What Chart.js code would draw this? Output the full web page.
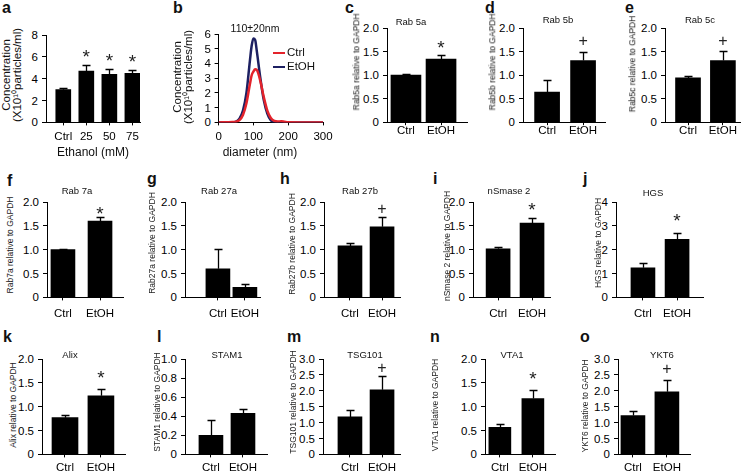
<!DOCTYPE html>
<html>
<head>
<meta charset="utf-8">
<script src="https://cdn.jsdelivr.net/npm/chart.js@4.4.1/dist/chart.umd.min.js"></script>
<style>
  html, body { margin:0; padding:0; background:#fff; }
  #fig { position:relative; width:746px; height:473px; overflow:hidden; font-family:'Liberation Sans', Arial, sans-serif; color:#111; }
  #fig canvas { position:absolute; }
  .tx { position:absolute; white-space:nowrap; line-height:1; transform:translate(-50%,-50%); }
  .yl { position:absolute; white-space:nowrap; height:14px; line-height:14px; text-align:right; color:#000; }
  .vt { position:absolute; white-space:nowrap; line-height:1; writing-mode:vertical-rl; transform:translate(-50%,-50%) rotate(180deg); color:#222; }
  .lt { position:absolute; white-space:nowrap; line-height:1; font-weight:bold; font-size:16px; }
  .lg { position:absolute; height:0; border-top:2.5px solid; }
</style>
</head>
<body>
<div id="fig"></div>
<script>
// ================= DATA =================
const groups = ['Ctrl', 'EtOH'];

// panel a
const ethanolLevels = ['Ctrl', '25', '50', '75'];
const exoConc    = [3.0, 4.7, 4.4, 4.5];
const exoConcErr = [0.17, 0.52, 0.46, 0.30];
const exoConcSig = ['', '*', '*', '*'];

// panel b
const sizeSeries = ['Ctrl', 'EtOH'];
const diameterNm = [0, 40, 50, 60, 70, 80, 90, 95, 100, 105, 110, 120, 130, 140, 150, 160, 170, 180, 190, 200, 250, 300];
const sizeCtrl   = [0, 0.02, 0.05, 0.15, 0.5, 1.3, 2.6, 3.2, 3.45, 3.6, 3.55, 2.8, 1.7, 0.8, 0.3, 0.1, 0.06, 0.08, 0.04, 0.01, 0, 0];
const sizeEtOH   = [0, 0, 0.05, 0.25, 0.8, 2.0, 4.2, 5.2, 5.7, 5.6, 4.8, 3.0, 1.5, 0.6, 0.15, 0.02, 0, 0, 0, 0, 0, 0];
const sizeTicks  = [0, 100, 200, 300];

// panels c - o (Ctrl, EtOH)
const rab5a   = [1.00, 1.34], rab5aErr   = [0.02, 0.08], rab5aSig   = ['', '*'];
const rab5b   = [0.64, 1.31], rab5bErr   = [0.25, 0.18], rab5bSig   = ['', '+'];
const rab5c   = [0.94, 1.31], rab5cErr   = [0.05, 0.21], rab5cSig   = ['', '+'];
const rab7a   = [1.00, 1.60], rab7aErr   = [0.01, 0.09], rab7aSig   = ['', '*'];
const rab27a  = [0.60, 0.21], rab27aErr  = [0.41, 0.08], rab27aSig  = ['', ''];
const rab27b  = [1.08, 1.48], rab27bErr  = [0.07, 0.21], rab27bSig  = ['', '+'];
const nsmase2 = [1.02, 1.56], nsmase2Err = [0.03, 0.10], nsmase2Sig = ['', '*'];
const hgs     = [1.24, 2.43], hgsErr     = [0.22, 0.26], hgsSig     = ['', '*'];
const alix    = [0.77, 1.23], alixErr    = [0.05, 0.15], alixSig    = ['', '*'];
const stam1   = [0.20, 0.43], stam1Err   = [0.16, 0.05], stam1Sig   = ['', ''];
const tsg101  = [1.18, 2.03], tsg101Err  = [0.22, 0.45], tsg101Sig  = ['', '+'];
const vta1    = [0.57, 1.17], vta1Err    = [0.07, 0.18], vta1Sig    = ['', '*'];
const ykt6    = [1.22, 1.97], ykt6Err    = [0.14, 0.37], ykt6Sig    = ['', '+'];

const panelTitles = ['Rab 5a','Rab 5b','Rab 5c','Rab 7a','Rab 27a','Rab 27b','nSmase 2','HGS','Alix','STAM1','TSG101','VTA1','YKT6'];
const concTitle = ['Concentration', '(X10¹⁰particles/ml)'];
const yTitles = ['Rab5a relative to GAPDH','Rab5b relative to GAPDH','Rab5c relative to GAPDH','Rab7a relative to GAPDH',
  'Rab27a relative to GAPDH','Rab27b relative to GAPDH','nSmase 2 relative to GAPDH','HGS relative to GAPDH',
  'Alix relative to GAPDH','STAM1 relative to GAPDH','TSG101 relative to GAPDH','VTA1 relative to GAPDH','YKT6 relative to GAPDH'];

// ================= LAYOUT / STYLE =================
const FONT = "'Liberation Sans', Arial, sans-serif";
Chart.defaults.font.family = FONT;
Chart.defaults.color = '#000';
const fig = document.getElementById('fig');
const FIGW = 746, PT = 10, PR = 8, FS = 11.5;

function addDiv(cls, html, x, y, size, extra) {
  const d = document.createElement('div');
  d.className = cls; d.innerHTML = html;
  if (x !== null) d.style.left = x + 'px';
  d.style.top = y + 'px';
  if (size) d.style.fontSize = size + 'px';
  if (extra) Object.assign(d.style, extra);
  fig.appendChild(d); return d;
}
function makeCanvas(w, h) {
  const c = document.createElement('canvas');
  c.width = w; c.height = h;
  c.style.width = w + 'px'; c.style.height = h + 'px';
  fig.appendChild(c); return c;
}
// build a chart so that its plot area lands on the given rectangle of the figure;
// the y tick labels are written from the chart's own y-scale ticks
function buildChart(makeCfg, g) {
  const canvas = makeCanvas(300, 200);
  let chart = new Chart(canvas, makeCfg());
  const ca = chart.chartArea, xh = chart.height - ca.bottom, L = ca.left, T = ca.top;
  chart.destroy();
  const w = Math.round(L + (g.xe - g.ax) + g.pr), h = Math.round(T + (g.bot - g.top) + xh);
  canvas.width = w; canvas.height = h; canvas.style.width = w + 'px'; canvas.style.height = h + 'px';
  chart = new Chart(canvas, makeCfg());
  const c2 = chart.chartArea;
  const left = Math.round(g.ax - c2.left), top = Math.round(g.top - c2.top);
  canvas.style.left = left + 'px';
  canvas.style.top = top + 'px';
  const ys = chart.scales.y;
  ys.ticks.forEach(t => {
    const y = top + ys.getPixelForValue(t.value);
    addDiv('yl', t.label, null, Math.round(y - 7), FS, { right: (FIGW - (g.ax - 8)) + 'px' });
  });
  return chart;
}

function errorBarPlugin(p) {
  return {
    id: 'errorBars',
    afterDatasetsDraw(chart) {
      const ctx = chart.ctx, ys = chart.scales.y, meta = chart.getDatasetMeta(0);
      ctx.save();
      ctx.strokeStyle = '#000'; ctx.lineWidth = 1.3;
      meta.data.forEach((el, i) => {
        const v = p.vals[i], e = p.errs[i];
        const x = Math.round(el.x) + 0.5;
        const y0 = ys.getPixelForValue(v), y1 = Math.round(ys.getPixelForValue(v + e)) + 0.5;
        ctx.beginPath();
        ctx.moveTo(x, y0); ctx.lineTo(x, y1);
        ctx.moveTo(x - 4, y1); ctx.lineTo(x + 4, y1);
        ctx.stroke();
        const s = p.sig[i];
        if (s) {
          const size = s === '*' ? 19 : 16;
          ctx.font = size + 'px ' + FONT;
          ctx.fillStyle = '#222'; ctx.textAlign = 'center'; ctx.textBaseline = 'alphabetic';
          const m = ctx.measureText(s);
          const cy = y1 - p.gap;
          ctx.fillText(s, el.x, cy + (m.actualBoundingBoxAscent - m.actualBoundingBoxDescent) / 2);
        }
      });
      ctx.restore();
    }
  };
}

const bars = [
  { vals: exoConc, errs: exoConcErr, sig: exoConcSig, cats: ethanolLevels, ax:46, xe:140, top:35, bot:122, ymax:8, step:2, dec:0, xmin:0.25, xmax:4.33, bw:15, gap:12, xpad:4.4 },
  { vals: rab5a, errs: rab5aErr, sig: rab5aSig, ax:387, xe:467, top:28, bot:122, ymax:2, step:0.5, dec:1, xmin:0.46, xmax:2.74, bw:30, gap:11, xpad:-1 },
  { vals: rab5b, errs: rab5bErr, sig: rab5bSig, ax:523, xe:605, top:28, bot:122, ymax:2, step:0.5, dec:1, xmin:0.33, xmax:2.61, bw:25, gap:12, xpad:-1 },
  { vals: rab5c, errs: rab5cErr, sig: rab5cSig, ax:665, xe:740, top:28, bot:122, ymax:2, step:0.5, dec:1, xmin:0.34, xmax:2.49, bw:25, gap:11, xpad:-1 },
  { vals: rab7a, errs: rab7aErr, sig: rab7aSig, ax:47, xe:123, top:202, bot:297, ymax:2, step:0.5, dec:1, xmin:0.57, xmax:2.62, bw:24, gap:7, xpad:6.4 },
  { vals: rab27a, errs: rab27aErr, sig: rab27aSig, ax:185, xe:260, top:202, bot:297, ymax:2, step:0.5, dec:1, xmin:-0.22, xmax:2.56, bw:24, gap:10, xpad:6.4 },
  { vals: rab27b, errs: rab27bErr, sig: rab27bSig, ax:324, xe:400, top:202, bot:297, ymax:2, step:0.5, dec:1, xmin:0.19, xmax:2.56, bw:24, gap:9, xpad:6.4 },
  { vals: nsmase2, errs: nsmase2Err, sig: nsmase2Sig, ax:473, xe:550, top:202, bot:297, ymax:2, step:0.5, dec:1, xmin:0.26, xmax:2.53, bw:24, gap:12, xpad:6.4 },
  { vals: hgs, errs: hgsErr, sig: hgsSig, ax:616, xe:703, top:202, bot:297, ymax:4, step:1, dec:0, xmin:0.21, xmax:2.76, bw:24, gap:16, xpad:6.4 },
  { vals: alix, errs: alixErr, sig: alixSig, ax:42, xe:125, top:359, bot:454, ymax:2, step:0.5, dec:1, xmin:0.36, xmax:2.67, bw:26, gap:15, xpad:3.4 },
  { vals: stam1, errs: stam1Err, sig: stam1Sig, ax:185, xe:267, top:359, bot:454, ymax:1, step:0.2, dec:1, xmin:0.19, xmax:2.75, bw:24, gap:10, xpad:3.4 },
  { vals: tsg101, errs: tsg101Err, sig: tsg101Sig, ax:323, xe:400, top:359, bot:454, ymax:3, step:0.5, dec:1, xmin:0.16, xmax:2.56, bw:24, gap:9, xpad:3.4 },
  { vals: vta1, errs: vta1Err, sig: vta1Sig, ax:485, xe:555, top:359, bot:454, ymax:2, step:0.5, dec:1, xmin:0.55, xmax:2.67, bw:22, gap:15, xpad:3.4 },
  { vals: ykt6, errs: ykt6Err, sig: ykt6Sig, ax:618, xe:690, top:359, bot:454, ymax:3, step:0.5, dec:1, xmin:0.56, xmax:2.68, bw:24, gap:12, xpad:3.4 },
];

function axisStyle(tickLen) {
  return {
    grid: { drawOnChartArea:false, drawTicks:true, tickLength:tickLen, color:'#000', lineWidth:1, offset:false },
    border: { color:'#000', width:1 }
  };
}

bars.forEach(p => {
  const cats = p.cats || groups, n = cats.length;
  buildChart(() => ({
    type: 'bar',
    data: { datasets: [{ data: p.vals.map((v, i) => ({ x: i + 1, y: v })), backgroundColor:'#000', borderWidth:0, barThickness:p.bw }] },
    options: {
      responsive:false, maintainAspectRatio:false, animation:false, devicePixelRatio:1,
      layout: { padding: { top:PT, right:PR, left:0, bottom:0 } },
      plugins: { legend:{ display:false }, tooltip:{ enabled:false } },
      scales: {
        x: Object.assign(axisStyle(3), {
          type:'linear', min:p.xmin, max:p.xmax, offset:false,
          afterBuildTicks: s => { s.ticks = s.ticks.filter(t => Number.isInteger(t.value) && t.value >= 1 && t.value <= n); },
          ticks: { stepSize:1, autoSkip:false, includeBounds:false, maxRotation:0, padding:p.xpad, font:{ size:FS }, color:'#000',
                   callback: v => cats[v - 1] }
        }),
        y: Object.assign(axisStyle(4), {
          min:0, max:p.ymax,
          ticks: { display:false, stepSize:p.step, autoSkip:false, callback: v => v === 0 ? '0' : v.toFixed(p.dec) }
        })
      }
    },
    plugins: [errorBarPlugin(p)]
  }), { ax:p.ax, xe:p.xe, top:p.top, bot:p.bot, pr:PR });
});

// ---- panel b: size distribution ----
(function () {
  const colors = ['#e3232b', '#1d2062'];
  const series = [sizeCtrl, sizeEtOH];
  const pr = 14;
  buildChart(() => ({
    type: 'line',
    data: { datasets: series.map((s, k) => ({
      label: sizeSeries[k], data: diameterNm.map((d, i) => ({ x: d, y: s[i] })),
      borderColor: colors[k], borderWidth: 2.5, pointRadius: 0, fill: false, cubicInterpolationMode: 'monotone'
    })) },
    options: {
      responsive:false, maintainAspectRatio:false, animation:false, devicePixelRatio:1,
      layout: { padding: { top:PT, right:pr, left:0, bottom:0 } },
      plugins: { legend:{ display:false }, tooltip:{ enabled:false } },
      scales: {
        x: Object.assign(axisStyle(3), {
          type:'linear', min:sizeTicks[0], max:sizeTicks[sizeTicks.length - 1],
          ticks: { stepSize:100, autoSkip:false, padding:4.4, font:{ size:FS }, color:'#000', maxRotation:0 }
        }),
        y: Object.assign(axisStyle(4), {
          min:0, max:6,
          ticks: { display:false, stepSize:1, autoSkip:false }
        })
      }
    }
  }), { ax:219, xe:323, top:34, bot:122, pr:pr });
  // legend (inside plot, from series names/colours)
  sizeSeries.forEach((name, k) => {
    const y = 53 + k * 14;
    addDiv('lg', '', 273, y - 1, 0, { width:'12px', borderTopColor: colors[k] });
    addDiv('tx', name, 287, y, 11.5, { transform:'translate(0,-50%)' });
  });
})();

// ================= TEXT =================
// panel letters: [letter, x, baseline]
[['a',2,13],['b',173,13],['c',345,13],['d',485,13],['e',625,13],
 ['f',7,186],['g',147,184],['h',280,184],['i',433,184],['j',583,184],
 ['k',3,342],['l',157,342],['m',287,342],['n',430,342],['o',580,342]]
 .forEach(([t, x, b]) => addDiv('lt', t, x, b - 13.5));

// panel titles
const titlePos = [[411,22],[558,20],[700,20],[77,191],[219,191],[360,191],[509,191],[653,193],[70,355],[227,355],[365,355],[512,355],[662,355]];
panelTitles.forEach((t, i) => addDiv('tx', t, titlePos[i][0], titlePos[i][1], 9.5));
addDiv('tx', '110±20nm', 255, 28, 10.5);

// y-axis titles (vertical writing mode, read bottom to top)
const yTitlePos = [[357,62],[493,62],[633,64],[10,245],[152,243],[292,244],[447,246],[598,243],[13,405],[157,402],[293,402],[435,405],[585,406]];
yTitles.forEach((t, i) => addDiv('vt', t, yTitlePos[i][0], yTitlePos[i][1], 8.5));
[[7, 18, 75], [178, 189, 77]].forEach(([x1, x2, y]) => {
  addDiv('vt', concTitle[0], x1, y, 11.5, { color:'#111' });
  addDiv('vt', concTitle[1], x2, y, 11.5, { color:'#111' });
});

// x-axis titles
addDiv('tx', 'Ethanol (mM)', 93, 152, 12);
addDiv('tx', 'diameter (nm)', 260, 152, 12);
</script>
</body>
</html>
